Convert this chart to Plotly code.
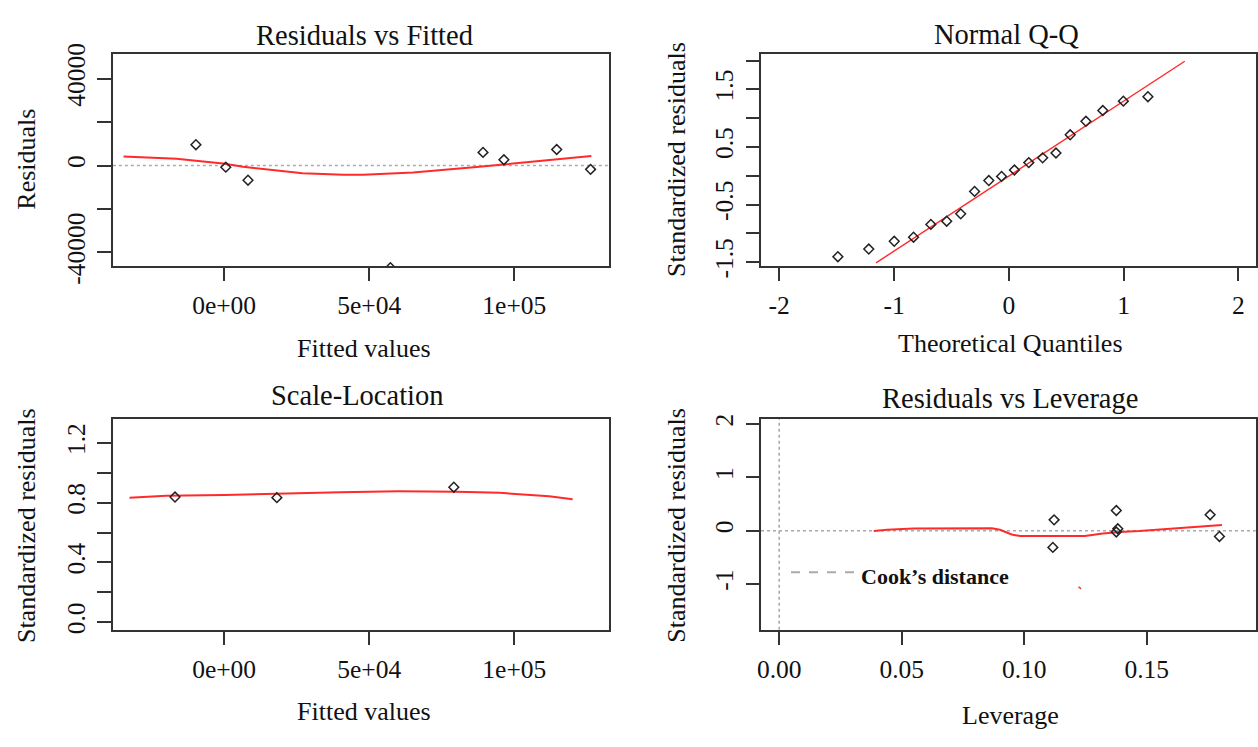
import plotly.graph_objects as go

W, H = 1258, 747
FONT = "Liberation Serif"

# ---------------- data ----------------
# Panel 1: Residuals vs Fitted
rf_fitted = [-9712, 583, 8236, 89225, 96427, 114618, 126287, 57310]
rf_resid = [9581, -750, -6755, 6049, 2649, 7373, -1766, -47000]
rf_smooth_x = [-34660, -23780, -16370, -7206, -343, 6520, 15680, 27010, 41080, 47940,
               65100, 78826, 87975, 96211, 107640, 116900, 126560]
rf_smooth_y = [4106, 3664, 3090, 1900, 883, -574, -1766, -3532, -4283, -4283,
               -3223, -1766, -574, 441, 1900, 3400, 4415]

# Panel 2: Normal Q-Q
qq_theo = [-1.489, -1.220, -0.998, -0.830, -0.679, -0.541, -0.419, -0.298, -0.174, -0.063,
           0.049, 0.174, 0.295, 0.411, 0.535, 0.672, 0.819, 0.998, 1.212]
qq_std = [-1.405, -1.272, -1.138, -1.067, -0.845, -0.789, -0.661, -0.272, -0.083, -0.011,
          0.100, 0.228, 0.311, 0.395, 0.711, 0.945, 1.133, 1.295, 1.372]
qq_line_x = [-1.157, 1.533]
qq_line_y = [-1.512, 1.988]

# Panel 3: Scale-Location
sl_fitted = [-16918, 18188, 79170]
sl_sqrt = [0.838, 0.834, 0.904]
sl_smooth_x = [-32600, -20000, 0, 20000, 40000, 60000, 80000, 95000, 105000, 112000, 120100]
sl_smooth_y = [0.834, 0.846, 0.852, 0.862, 0.870, 0.876, 0.874, 0.866, 0.855, 0.843, 0.823]

# Panel 4: Residuals vs Leverage
lv_lev = [0.1122, 0.1117, 0.1376, 0.1382, 0.1376, 0.1759, 0.1797]
lv_std = [0.203, -0.313, 0.378, 0.036, -0.025, 0.299, -0.108]
lv_smooth_x = [0.0386, 0.044, 0.0549, 0.0868, 0.0901, 0.0949, 0.0983, 0.1247, 0.1321,
               0.139, 0.147, 0.1606, 0.1714, 0.1807]
lv_smooth_y = [-0.007, 0.018, 0.041, 0.047, 0.018, -0.072, -0.10, -0.10, -0.054,
               -0.025, -0.007, 0.036, 0.077, 0.108]
cook_frag_x = [0.1222, 0.1232]
cook_frag_y = [-1.05, -1.09]
cook_legend_x = [0.0048, 0.0319]
cook_legend_y = [-0.78, -0.78]

# tick labels
fit_tickvals = [0, 50000, 100000]
fit_ticktext = ["0e+00", "5e+04", "1e+05"]
rf_ytickvals = [-40000, -20000, 0, 20000, 40000]
rf_yticktext = ["-40000", "", "0", "", "40000"]
qq_xtickvals = [-2, -1, 0, 1, 2]
qq_xticktext = ["-2", "-1", "0", "1", "2"]
qq_ytickvals = [-1.5, -1.0, -0.5, 0.0, 0.5, 1.0, 1.5, 2.0]
qq_yticktext = ["-1.5", "", "-0.5", "", "0.5", "", "1.5", ""]
sl_ytickvals = [0.0, 0.2, 0.4, 0.6, 0.8, 1.0, 1.2]
sl_yticktext = ["0.0", "", "0.4", "", "0.8", "", "1.2"]
lv_xtickvals = [0.00, 0.05, 0.10, 0.15]
lv_xticktext = ["0.00", "0.05", "0.10", "0.15"]
lv_ytickvals = [-1, 0, 1, 2]
lv_yticktext = ["-1", "0", "1", "2"]

# ---------------- figure ----------------
RED = "#ff2a2a"
PT = dict(symbol="diamond-open", size=7.5, color="#222", line=dict(width=1.5, color="#222"))

fig = go.Figure()
fig.add_trace(go.Scatter(x=rf_smooth_x, y=rf_smooth_y, mode="lines",
                         line=dict(color=RED, width=2), xaxis="x", yaxis="y"))
fig.add_trace(go.Scatter(x=rf_fitted, y=rf_resid, mode="markers", marker=PT,
                         xaxis="x", yaxis="y"))
fig.add_trace(go.Scatter(x=qq_line_x, y=qq_line_y, mode="lines",
                         line=dict(color=RED, width=1.4), xaxis="x2", yaxis="y2"))
fig.add_trace(go.Scatter(x=qq_theo, y=qq_std, mode="markers", marker=PT,
                         xaxis="x2", yaxis="y2"))
fig.add_trace(go.Scatter(x=sl_smooth_x, y=sl_smooth_y, mode="lines",
                         line=dict(color=RED, width=2), xaxis="x3", yaxis="y3"))
fig.add_trace(go.Scatter(x=sl_fitted, y=sl_sqrt, mode="markers", marker=PT,
                         xaxis="x3", yaxis="y3"))
fig.add_trace(go.Scatter(x=lv_smooth_x, y=lv_smooth_y, mode="lines",
                         line=dict(color=RED, width=2), xaxis="x4", yaxis="y4"))
fig.add_trace(go.Scatter(x=lv_lev, y=lv_std, mode="markers", marker=PT,
                         xaxis="x4", yaxis="y4"))
fig.add_trace(go.Scatter(x=cook_frag_x, y=cook_frag_y, mode="lines",
                         line=dict(color=RED, width=1.5), xaxis="x4", yaxis="y4"))
fig.add_trace(go.Scatter(x=cook_legend_x, y=cook_legend_y, mode="lines",
                         line=dict(color="#aaaaaa", width=2, dash="dash"),
                         xaxis="x4", yaxis="y4"))


def ax(domain, rng, tickvals, ticktext, anchor, angle=0, standoff=2):
    return dict(domain=domain, range=rng, tickvals=tickvals, ticktext=ticktext,
                anchor=anchor, showline=True, mirror=True, linecolor="#333",
                linewidth=1.8, ticks="outside", ticklen=13.5, tickwidth=1.8,
                tickcolor="#333", showgrid=False, zeroline=False, tickangle=angle,
                ticklabelstandoff=standoff,
                tickfont=dict(family=FONT, size=25.5, color="#111"))


XL = [109.3 / W, 607.3 / W]
XR = [760 / W, 1256.7 / W]
YT = [1 - 265.7 / H, 1 - 45 / H]
YB = [1 - 644.7 / H, 1 - 424.7 / H]

fig.update_layout(
    width=W, height=H, margin=dict(l=0, r=0, t=0, b=0),
    paper_bgcolor="white", plot_bgcolor="white", showlegend=False,
    xaxis=ax(XL, [-38332, 132600], fit_tickvals, fit_ticktext, "y"),
    yaxis=ax(YT, [-46225, 51214], rf_ytickvals, rf_yticktext, "x", -90),
    xaxis2=ax(XR, [-2.159, 2.151], qq_xtickvals, qq_xticktext, "y2"),
    yaxis2=ax(YT, [-1.567, 2.11], qq_ytickvals, qq_yticktext, "x2", -90),
    xaxis3=ax(XL, [-38332, 132600], fit_tickvals, fit_ticktext, "y3"),
    yaxis3=ax(YB, [-0.051, 1.363], sl_ytickvals, sl_yticktext, "x3", -90),
    xaxis4=ax(XR, [-0.00744, 0.1945], lv_xtickvals, lv_xticktext, "y4"),
    yaxis4=ax(YB, [-1.858, 2.10], lv_ytickvals, lv_yticktext, "x4", -90),
)

# reference dotted lines
dot = dict(color="#aaaaaa", width=1.6, dash="dot")
fig.add_shape(type="line", xref="x domain", yref="y", x0=0, x1=1, y0=0, y1=0, line=dot, layer="below")
fig.add_shape(type="line", xref="x4 domain", yref="y4", x0=0, x1=1, y0=0, y1=0, line=dot, layer="below")
fig.add_shape(type="line", xref="x4", yref="y4 domain", x0=0, x1=0, y0=0, y1=1, line=dot, layer="below")


def txt(s, x, y, size, angle=0, **kw):
    fig.add_annotation(text=s, x=x / W, y=1 - y / H, xref="paper", yref="paper",
                       showarrow=False, textangle=angle, xanchor="center", yanchor="middle",
                       font=dict(family=FONT, size=size, color="#111"), **kw)


# titles
txt("Residuals vs Fitted", 361.7, 26, 28.5)
txt("Normal Q-Q", 1006.7, 24, 28.5)
txt("Scale-Location", 355, 401, 28.5)
txt("Residuals vs Leverage", 1010.3, 403.7, 28.5)
# axis titles
txt("Fitted values", 361.7, 351.7, 26)
txt("Residuals", 22.5, 154.5, 26, -90)
txt("Theoretical Quantiles", 1010.5, 346.7, 26)
txt("Standardized residuals", 675.8, 155, 26, -90)
txt("Fitted values", 361.7, 730.3, 26)
txt("Standardized residuals", 22.5, 536.2, 26, -90)
txt("Leverage", 1010.8, 734.3, 26)
txt("Standardized residuals", 675.8, 536.2, 26, -90)

# Cook's distance legend text
fig.add_annotation(text="<b>Cook’s distance</b>", x=0.0327, y=-0.853, xref="x4", yref="y4",
                   showarrow=False, xanchor="left", yanchor="middle",
                   font=dict(family=FONT, size=22, color="#111"))

fig.write_html("out.html", post_script="document.body.style.margin='0px';",
               config={"displayModeBar": False})
